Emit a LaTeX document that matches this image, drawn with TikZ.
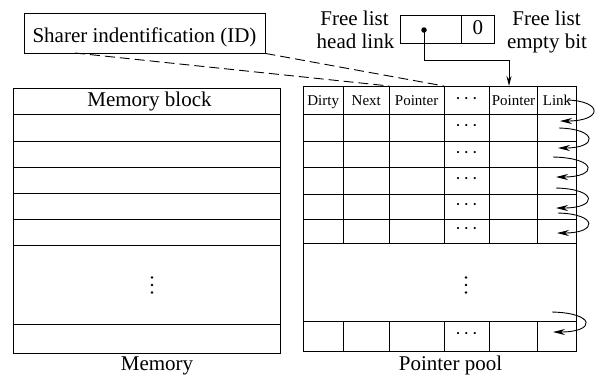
\documentclass[tikz,border=0pt]{standalone}
\usepackage{fontspec}
\setmainfont{Liberation Serif}
\usetikzlibrary{arrows.meta}
\begin{document}
\begin{tikzpicture}[x=1bp,y=-1bp, line width=0.9bp,
  big/.style={font=\fontsize{21bp}{24bp}\selectfont, inner sep=0pt},
  hdr/.style={font=\fontsize{15bp}{17bp}\selectfont, inner sep=0pt},
  dotsr/.style={font=\fontsize{18bp}{20bp}\selectfont, inner sep=0pt},
  vdotc/.style={circle, fill, inner sep=0pt, minimum size=2.8bp},
  cell/.style={draw, inner sep=0pt},
  looparrow/.style={-{Stealth[length=12bp,width=6bp]}},
  dashline/.style={dash pattern=on 10bp off 5bp}]
\useasboundingbox (0,0) rectangle (595,379);
\newcommand{\hdots}{\textperiodcentered\kern2.5bp\textperiodcentered\kern2.5bp\textperiodcentered}

% Sharer ID box
\node[cell, minimum width=241bp, minimum height=40bp] (id) at (144.5,33) {};
\node[big, anchor=base] (idtxt) at (144.5,42.5) {Sharer indentification (ID)};

% Free list box
\node[cell, minimum width=61.7bp, minimum height=28bp] (flhead) at (430.85,29) {};
\node[cell, minimum width=32.3bp, minimum height=28bp] (flbit) at (477.85,29) {};
\node[big, anchor=base] (zero) at (477.85,34) {0};
\node[circle, fill, inner sep=0pt, minimum size=5.5bp] (hd) at (424,30) {};
\node[big, anchor=base] (fl1a) at (354.5,25) {Free list};
\node[big, anchor=base] (fl1b) at (355.5,48.3) {head link};
\node[big, anchor=base] (fl2a) at (546.5,25) {Free list};
\node[big, anchor=base] (fl2b) at (547,48.3) {empty bit};

% Memory
\draw (13,88.5) rectangle (280,353.3);
\foreach \y in {114.3,141,167,193,219.3,245.7,324.3}
  \draw (13,\y) -- (280,\y);
\node[big, anchor=base] (memblk) at (149.5,106) {Memory block};
\foreach \y [count=\i] in {277.5,285,292.5}
  \node[vdotc] (md\i) at (152,\y) {};
\node[big, anchor=base] (memlbl) at (157,370.5) {Memory};

% Pointer pool
\draw (303,86) rectangle (576.7,351);
\foreach \y in {114,141.7,167.7,194,219,243.3,321}
  \draw (303,\y) -- (576.7,\y);
\foreach \x in {343.3,389.3,444,489,537.3}{
  \draw (\x,86) -- (\x,243.3);
  \draw (\x,321) -- (\x,351);
}
\node[hdr, anchor=base] (h1) at (323.2,105) {Dirty};
\node[hdr, anchor=base] (h2) at (366.3,105) {Next};
\node[hdr, anchor=base] (h3) at (416.6,105) {Pointer};
\node[dotsr] (h4) at (466.5,100.5) {\hdots};
\node[hdr, anchor=base] (h5) at (513.5,105) {Pointer};
\node[hdr, anchor=base] (h6) at (557,105) {Link};
\foreach \y [count=\i] in {127.9,154.7,180.9,206.5,231.2,336}
  \node[dotsr] (rd\i) at (466.5,\y) {\hdots};
\foreach \y [count=\i] in {277.5,285,292.5}
  \node[vdotc] (pd\i) at (466,\y) {};
\node[big, anchor=base] (poollbl) at (450.5,370.5) {Pointer pool};

% dashed connectors
\coordinate (idA) at (75,53);
\coordinate (pA) at (389.3,86);
\coordinate (pB) at (444,86);
\draw[dashline] (idA) -- (pA);
\draw[dashline] (id.south east) -- (pB);

% free list head arrow
\coordinate (turn) at (509,60);
\coordinate (ptrtop) at (509,86);
\draw[-{Stealth[length=10bp,width=5bp]}] (hd.center) |- (turn) -- (ptrtop);

% link arrows
\coordinate (s1) at (567,100); \coordinate (e1) at (560,121);
\coordinate (s2) at (559,128); \coordinate (e2) at (558,148);
\coordinate (s3) at (553,157); \coordinate (e3) at (556,177);
\coordinate (s4) at (556,188); \coordinate (e4) at (556,208);
\coordinate (s5) at (558,213); \coordinate (e5) at (557,233);
\coordinate (s6) at (552,312); \coordinate (e6) at (553,332);
\draw[looparrow] (s1) .. controls (603,101) and (603,121) .. (e1);
\draw[looparrow] (s2) .. controls (598,129) and (598,148) .. (e2);
\draw[looparrow] (s3) .. controls (598,158) and (598,177) .. (e3);
\draw[looparrow] (s4) .. controls (598,189) and (598,208) .. (e4);
\draw[looparrow] (s5) .. controls (598,214) and (598,233) .. (e5);
\draw[looparrow] (s6) .. controls (596,313) and (596,332) .. (e6);
\end{tikzpicture}
\end{document}
